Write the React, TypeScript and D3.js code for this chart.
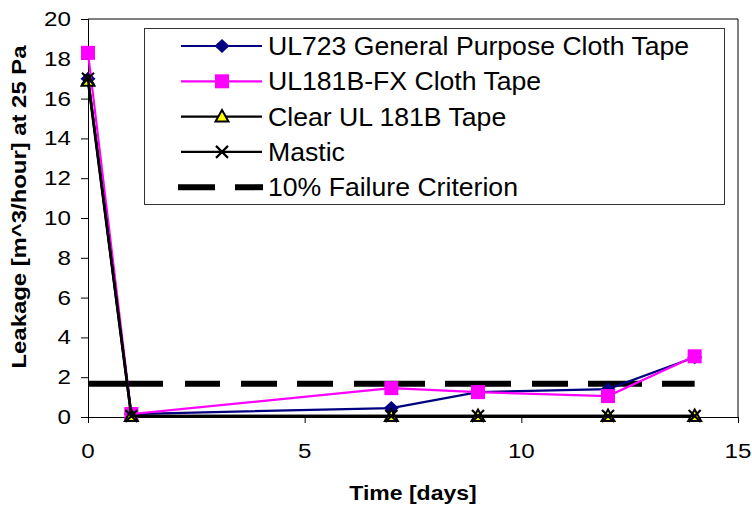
import React, { useEffect, useRef } from 'react';
import * as d3 from 'd3';

// measurement days and leakage values (m^3/hour at 25 Pa)
const days = [0, 1, 7, 9, 12, 14];
const ul723 = [17.0, 0.15, 0.45, 1.25, 1.4, 3.0];
const ul181bfx = [18.3, 0.15, 1.45, 1.25, 1.05, 3.05];
const clearTape = [16.9, 0.05, 0.05, 0.05, 0.05, 0.05];
const mastic = [17.0, 0.05, 0.05, 0.05, 0.05, 0.05];

const criterionDays = [0, 14];
const criterionValues = [1.67, 1.67];

const xTicks = [0, 5, 10, 15];
const yTicks = [0, 2, 4, 6, 8, 10, 12, 14, 16, 18, 20];

const legendLabels = [
  'UL723 General Purpose Cloth Tape',
  'UL181B-FX Cloth Tape',
  'Clear UL 181B Tape',
  'Mastic',
  '10% Failure Criterion'
];

const FONT = 'Arial, "Liberation Sans", sans-serif';

type Marker = 'diamond' | 'square' | 'triangle' | 'x';

interface Series {
  name: string;
  values: number[];
  color: string;
  marker: Marker;
  width: number;
}

const series: Series[] = [
  { name: legendLabels[0], values: ul723, color: '#000080', marker: 'diamond', width: 2.2 },
  { name: legendLabels[1], values: ul181bfx, color: '#ff00ff', marker: 'square', width: 2.2 },
  { name: legendLabels[2], values: clearTape, color: '#000000', marker: 'triangle', width: 2.6 },
  { name: legendLabels[3], values: mastic, color: '#000000', marker: 'x', width: 2.6 }
];

function drawMarker(g: d3.Selection<SVGGElement, unknown, null, undefined>, kind: Marker, x: number, y: number, color: string) {
  if (kind === 'diamond') {
    g.append('path')
      .attr('d', `M${x},${y - 7}L${x + 7.5},${y}L${x},${y + 7}L${x - 7.5},${y}Z`)
      .attr('fill', color);
  } else if (kind === 'square') {
    g.append('rect')
      .attr('x', x - 7).attr('y', y - 7)
      .attr('width', 14).attr('height', 14)
      .attr('fill', color);
  } else if (kind === 'triangle') {
    g.append('path')
      .attr('d', `M${x},${y - 6.5}L${x + 6.5},${y + 5}L${x - 6.5},${y + 5}Z`)
      .attr('fill', '#ffff00')
      .attr('stroke', '#000')
      .attr('stroke-width', 2)
      .attr('stroke-linejoin', 'miter');
  } else {
    g.append('path')
      .attr('d', `M${x - 6},${y - 6}L${x + 6},${y + 6}M${x + 6},${y - 6}L${x - 6},${y + 6}`)
      .attr('stroke', color)
      .attr('stroke-width', 2.2);
  }
}

export default function App() {
  const svgRef = useRef<SVGSVGElement>(null);

  useEffect(() => {
    if (!svgRef.current) return;
    const svg = d3.select(svgRef.current);
    svg.selectAll('*').remove();

    const x = d3.scaleLinear().domain([0, 15]).range([88, 738]);
    const y = d3.scaleLinear().domain([0, 20]).range([417, 19]);

    const root = svg.append('g');

    // plot frame (top/right)
    root.append('path')
      .attr('d', `M${x(0)},${y(20)}H${x(15)}V${y(0)}`)
      .attr('fill', 'none')
      .attr('stroke', '#000')
      .attr('stroke-width', 1);

    // y axis
    const yAxis = root.append('g')
      .attr('transform', `translate(${x(0)},0)`)
      .call(d3.axisLeft(y).tickValues(yTicks).tickSize(7).tickFormat(() => ''));
    yAxis.select('.domain').attr('stroke', '#000');
    yAxis.selectAll('line').attr('stroke', '#000');

    // x axis
    const xAxis = root.append('g')
      .attr('transform', `translate(0,${y(0)})`)
      .call(d3.axisBottom(x).tickValues(xTicks).tickSize(6).tickFormat(() => ''));
    xAxis.select('.domain').attr('stroke', '#000');
    xAxis.selectAll('line').attr('stroke', '#000');

    // tick labels (slightly wide glyphs like the source)
    yTicks.forEach(t => {
      root.append('text')
        .attr('transform', `translate(71,${y(t) + 7}) scale(1.18,1)`)
        .attr('text-anchor', 'end')
        .attr('font-family', FONT)
        .attr('font-size', 20.5)
        .attr('fill', '#000')
        .text(String(t));
    });
    xTicks.forEach(t => {
      root.append('text')
        .attr('transform', `translate(${x(t)},458) scale(1.18,1)`)
        .attr('text-anchor', 'middle')
        .attr('font-family', FONT)
        .attr('font-size', 20.5)
        .attr('fill', '#000')
        .text(String(t));
    });

    // axis titles
    root.append('text')
      .attr('transform', `translate(${(x(0) + x(15)) / 2},500) scale(1.15,1)`)
      .attr('text-anchor', 'middle')
      .attr('font-family', FONT)
      .attr('font-size', 20)
      .attr('font-weight', 'bold')
      .text('Time [days]');
    root.append('text')
      .attr('transform', `translate(26,${(y(0) + y(20)) / 2 - 11}) rotate(-90)`)
      .attr('text-anchor', 'middle')
      .attr('font-family', FONT)
      .attr('font-size', 21)
      .attr('font-weight', 'bold')
      .attr('textLength', 323)
      .attr('lengthAdjust', 'spacingAndGlyphs')
      .text('Leakage [m^3/hour] at 25 Pa');

    // failure criterion dashed line
    const critLine = d3.line<number>()
      .x((_, i) => x(criterionDays[i]))
      .y(d => y(d));
    root.append('path')
      .datum(criterionValues)
      .attr('d', critLine)
      .attr('fill', 'none')
      .attr('stroke', '#000')
      .attr('stroke-width', 6)
      .attr('stroke-dasharray', '75,22,35,21,36,20,36,21,71,20,66,21,36,20,54,20,40');

    // series lines + markers
    const line = d3.line<number>()
      .x((_, i) => x(days[i]))
      .y(d => y(d));
    series.forEach(s => {
      const g = root.append('g');
      g.append('path')
        .datum(s.values)
        .attr('d', line)
        .attr('fill', 'none')
        .attr('stroke', s.color)
        .attr('stroke-width', s.width);
      s.values.forEach((v, i) => drawMarker(g, s.marker, x(days[i]), y(v), s.color));
    });

    // legend
    const lg = root.append('g');
    lg.append('rect')
      .attr('x', 144.5).attr('y', 28.5)
      .attr('width', 580).attr('height', 176)
      .attr('fill', '#fff')
      .attr('stroke', '#333')
      .attr('stroke-width', 1);
    legendLabels.forEach((label, i) => {
      const cy = 46 + i * 35.3;
      if (i < series.length) {
        const s = series[i];
        lg.append('line')
          .attr('x1', 181).attr('x2', 262)
          .attr('y1', cy).attr('y2', cy)
          .attr('stroke', s.color)
          .attr('stroke-width', 2.2);
        drawMarker(lg, s.marker, 222, cy, s.color);
      } else {
        lg.append('line')
          .attr('x1', 178).attr('x2', 263)
          .attr('y1', cy).attr('y2', cy)
          .attr('stroke', '#000')
          .attr('stroke-width', 6)
          .attr('stroke-dasharray', '37,20');
      }
      lg.append('text')
        .attr('transform', `translate(268,${cy + 9}) scale(1.065,1)`)
        .attr('font-family', FONT)
        .attr('font-size', 25)
        .attr('fill', '#000')
        .text(label);
    });
  }, []);

  return (
    <svg
      ref={svgRef}
      width={752}
      height={506}
      style={{ position: 'absolute', left: 0, top: 0, background: '#fff' }}
    />
  );
}
